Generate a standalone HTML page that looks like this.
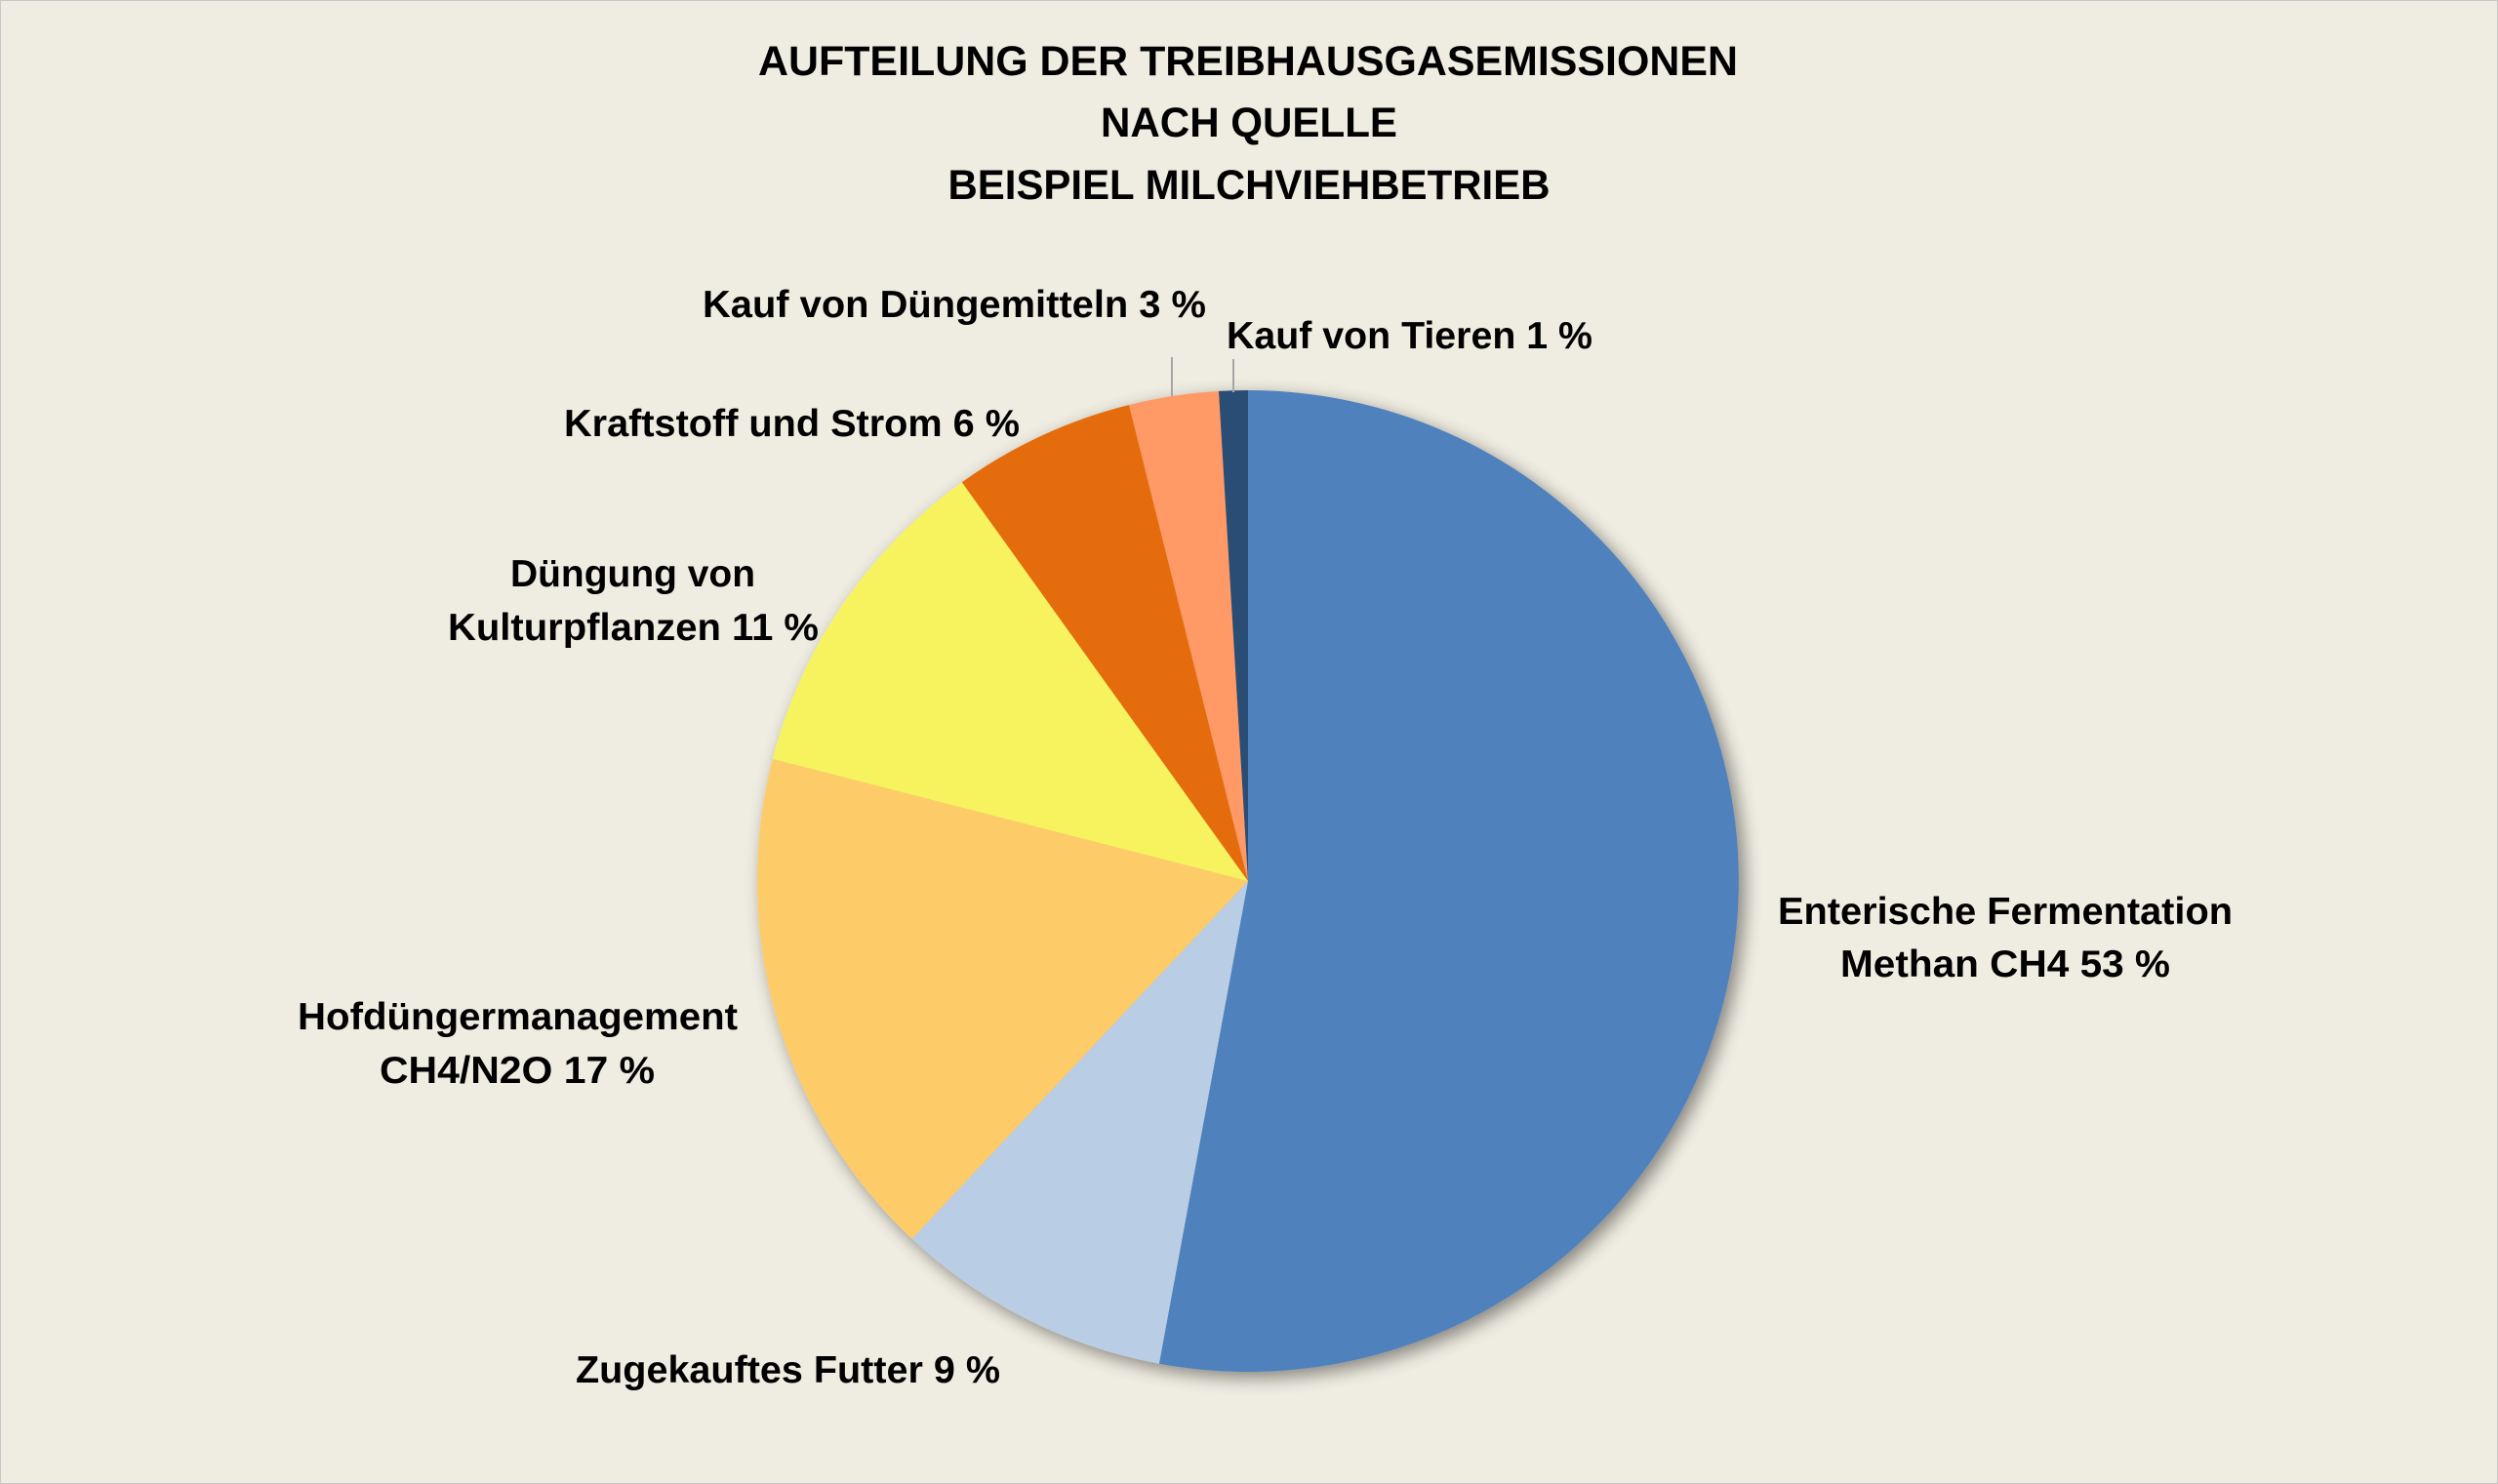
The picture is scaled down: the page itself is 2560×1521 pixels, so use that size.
<!DOCTYPE html>
<html><head><meta charset="utf-8"><style>
html,body{margin:0;padding:0;background:#EFECE1;}
svg{display:block;}
text{font-family:"Liberation Sans",sans-serif;font-weight:bold;fill:#000;}
</style></head><body>
<svg width="2560" height="1521" viewBox="0 0 2560 1521" xmlns="http://www.w3.org/2000/svg">
<defs>
<filter id="sh" x="-20%" y="-20%" width="140%" height="140%">
<feGaussianBlur in="SourceAlpha" stdDeviation="9"/>
<feOffset dx="6" dy="6"/>
<feComponentTransfer><feFuncA type="linear" slope="0.45"/></feComponentTransfer>
<feMerge><feMergeNode/><feMergeNode in="SourceGraphic"/></feMerge>
</filter>
</defs>
<rect x="0.5" y="0.5" width="2559" height="1520" fill="#EFECE1" stroke="#c8c8c8" stroke-width="1"/>
<g font-size="43">
<text x="1279" y="77" text-anchor="middle" textLength="1004" lengthAdjust="spacingAndGlyphs">AUFTEILUNG DER TREIBHAUSGASEMISSIONEN</text>
<text x="1280" y="140" text-anchor="middle" textLength="304" lengthAdjust="spacingAndGlyphs">NACH QUELLE</text>
<text x="1280" y="204" text-anchor="middle" textLength="617" lengthAdjust="spacingAndGlyphs">BEISPIEL MILCHVIEHBETRIEB</text>
</g>
<g filter="url(#sh)">
<path d="M1279,903 L1279,400 A503,503 0 1 1 1187.9,1397.7 Z" fill="#4F81BD"/>
<path d="M1279,903 L1187.9,1397.7 A503,503 0 0 1 934.7,1269.7 Z" fill="#B9CDE5"/>
<path d="M1279,903 L934.7,1269.7 A503,503 0 0 1 791.8,777.9 Z" fill="#FECB69"/>
<path d="M1279,903 L791.8,777.9 A503,503 0 0 1 985.8,494.3 Z" fill="#F7F35F"/>
<path d="M1279,903 L985.8,494.3 A503,503 0 0 1 1157,415 Z" fill="#E46C0A"/>
<path d="M1279,903 L1157,415 A503,503 0 0 1 1249,400.9 Z" fill="#FF9966"/>
<path d="M1279,903 L1249,400.9 A503,503 0 0 1 1279,400 Z" fill="#2C4D75"/>
</g>
<line x1="1201" y1="366" x2="1201" y2="406" stroke="#a6a6a6" stroke-width="2"/>
<line x1="1264" y1="368" x2="1264" y2="402" stroke="#a6a6a6" stroke-width="2"/>
<g font-size="39">
<text x="720" y="325" textLength="516" lengthAdjust="spacingAndGlyphs">Kauf von Düngemitteln 3 %</text>
<text x="1257" y="357" textLength="375" lengthAdjust="spacingAndGlyphs">Kauf von Tieren 1 %</text>
<text x="578" y="447" textLength="467" lengthAdjust="spacingAndGlyphs">Kraftstoff und Strom 6 %</text>
<text x="523" y="601" textLength="251" lengthAdjust="spacingAndGlyphs">Düngung von</text>
<text x="459" y="656" textLength="380" lengthAdjust="spacingAndGlyphs">Kulturpflanzen 11 %</text>
<text x="305" y="1055" textLength="451" lengthAdjust="spacingAndGlyphs">Hofdüngermanagement</text>
<text x="389" y="1110" textLength="282" lengthAdjust="spacingAndGlyphs">CH4/N2O 17 %</text>
<text x="590" y="1417" textLength="435" lengthAdjust="spacingAndGlyphs">Zugekauftes Futter 9 %</text>
<text x="1822" y="947" textLength="466" lengthAdjust="spacingAndGlyphs">Enterische Fermentation</text>
<text x="1886" y="1001" textLength="338" lengthAdjust="spacingAndGlyphs">Methan CH4 53 %</text>
</g>
</svg>
</body></html>
